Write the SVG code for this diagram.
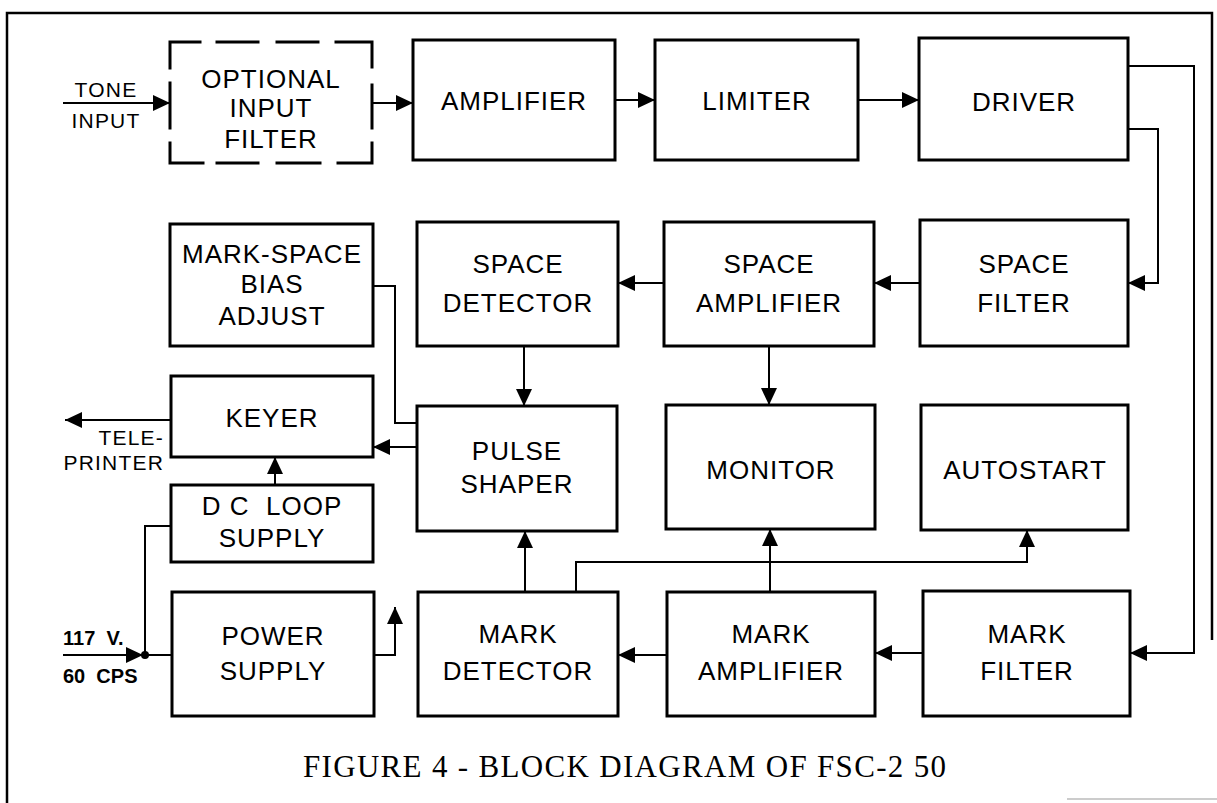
<svg xmlns="http://www.w3.org/2000/svg" width="1217" height="803" viewBox="0 0 1217 803">
<style>
.box{fill:none;stroke:#000;stroke-width:3}
.lbl{font-family:"Liberation Sans",Arial,sans-serif;font-size:26px;letter-spacing:1px;text-anchor:middle;fill:#000}
.sm{font-family:"Liberation Sans",Arial,sans-serif;font-size:21px;letter-spacing:1.2px;fill:#000}
.bd{font-family:"Liberation Sans",Arial,sans-serif;font-size:20px;font-weight:bold;fill:#000}
.cap{font-family:"Liberation Serif","Times New Roman",serif;font-size:31px;fill:#000}
.c{fill:none;stroke:#000;stroke-width:2}
.ca{fill:none;stroke:#000;stroke-width:2;marker-end:url(#ah)}
</style>
<defs>
<marker id="ah" viewBox="0 0 17 16" refX="17" refY="8" markerWidth="17" markerHeight="16" markerUnits="userSpaceOnUse" orient="auto"><path d="M0,0 L17,8 L0,16 z" fill="#000"/></marker>
</defs>
<rect width="1217" height="803" fill="#fff"/>
<g id="border" fill="none" stroke="#000" stroke-width="2.5">
<path d="M7,803 V13 H1212 V640"/>
<path d="M1067,799 H1217" stroke="#bbb" stroke-width="1.5"/>
</g>
<g id="nodes">
<g id="n-optional"><path class="box" stroke-linecap="square" d="M170,42 H200 M217,42 H258 M277,42 H318 M336,42 H372 M170,163 H203 M217,163 H258 M277,163 H320 M338,163 H372 M170,42 V68 M170,83 V128 M170,143 V163 M372,42 V67 M372,85 V128 M372,143 V163"/><text class="lbl" x="271" y="88">OPTIONAL</text><text class="lbl" x="271" y="117">INPUT</text><text class="lbl" x="271" y="148">FILTER</text></g>
<g id="n-amplifier"><rect class="box" x="413" y="40" width="202" height="120"/><text class="lbl" x="514" y="110">AMPLIFIER</text></g>
<g id="n-limiter"><rect class="box" x="655" y="40" width="203" height="120"/><text class="lbl" x="757" y="110">LIMITER</text></g>
<g id="n-driver"><rect class="box" x="919" y="38" width="209" height="122"/><text class="lbl" x="1024" y="111">DRIVER</text></g>
<g id="n-bias"><rect class="box" x="170" y="224" width="203" height="122"/><text class="lbl" x="272" y="263">MARK-SPACE</text><text class="lbl" x="272" y="293">BIAS</text><text class="lbl" x="272" y="325">ADJUST</text></g>
<g id="n-spacedet"><rect class="box" x="417" y="222" width="201" height="124"/><text class="lbl" x="518" y="273">SPACE</text><text class="lbl" x="518" y="312">DETECTOR</text></g>
<g id="n-spaceamp"><rect class="box" x="664" y="222" width="210" height="124"/><text class="lbl" x="769" y="273">SPACE</text><text class="lbl" x="769" y="312">AMPLIFIER</text></g>
<g id="n-spacefilt"><rect class="box" x="920" y="220" width="208" height="126"/><text class="lbl" x="1024" y="273">SPACE</text><text class="lbl" x="1024" y="312">FILTER</text></g>
<g id="n-keyer"><rect class="box" x="171" y="376" width="202" height="81"/><text class="lbl" x="272" y="427">KEYER</text></g>
<g id="n-dcloop"><rect class="box" x="171" y="485" width="202" height="77"/><text class="lbl" x="272" y="515" xml:space="preserve">D C  LOOP</text><text class="lbl" x="272" y="547">SUPPLY</text></g>
<g id="n-pulse"><rect class="box" x="417" y="406" width="200" height="125"/><text class="lbl" x="517" y="460">PULSE</text><text class="lbl" x="517" y="493">SHAPER</text></g>
<g id="n-monitor"><rect class="box" x="666" y="405" width="209" height="124"/><text class="lbl" x="771" y="479">MONITOR</text></g>
<g id="n-autostart"><rect class="box" x="921" y="405" width="207" height="125"/><text class="lbl" x="1025" y="479">AUTOSTART</text></g>
<g id="n-power"><rect class="box" x="172" y="592" width="202" height="124"/><text class="lbl" x="273" y="645">POWER</text><text class="lbl" x="273" y="680">SUPPLY</text></g>
<g id="n-markdet"><rect class="box" x="418" y="592" width="200" height="124"/><text class="lbl" x="518" y="643">MARK</text><text class="lbl" x="518" y="680">DETECTOR</text></g>
<g id="n-markamp"><rect class="box" x="667" y="592" width="208" height="124"/><text class="lbl" x="771" y="643">MARK</text><text class="lbl" x="771" y="680">AMPLIFIER</text></g>
<g id="n-markfilt"><rect class="box" x="923" y="591" width="207" height="125"/><text class="lbl" x="1027" y="643">MARK</text><text class="lbl" x="1027" y="680">FILTER</text></g>
</g>
<g id="connectors">
<path class="ca" d="M63,103 H170"/>
<path class="ca" d="M372,103 H413"/>
<path class="ca" d="M615,100 H655"/>
<path class="ca" d="M858,100 H919"/>
<path class="ca" d="M1128,129 H1158 V283 H1128"/>
<path class="ca" d="M1128,66 H1194 V653 H1130"/>
<path class="ca" d="M920,283 H874"/>
<path class="ca" d="M664,283 H618"/>
<path class="ca" d="M524,346 V406"/>
<path class="ca" d="M769,346 V405"/>
<path class="c" d="M373,286 H395 V423 H417"/>
<path class="ca" d="M417,447 H373"/>
<path class="ca" d="M171,420 H65"/>
<path class="ca" d="M275,485 V457"/>
<path class="ca" d="M63,655 H143"/>
<path class="c" d="M143,655 H172"/>
<circle cx="145" cy="655" r="4" fill="#000"/>
<path class="c" d="M145,655 V526 H171"/>
<path class="ca" d="M374,655 H395 V607"/>
<path class="ca" d="M923,653 H875"/>
<path class="ca" d="M667,655 H618"/>
<path class="ca" d="M525,592 V531"/>
<path class="ca" d="M770,592 V529"/>
<path class="ca" d="M576,592 V562 H1027 V530"/>
</g>
<g id="labels">
<text class="sm" x="106" y="97" text-anchor="middle">TONE</text>
<text class="sm" x="106" y="128" text-anchor="middle">INPUT</text>
<text class="sm" x="164" y="445" text-anchor="end">TELE-</text>
<text class="sm" x="164" y="470" text-anchor="end">PRINTER</text>
<text class="bd" x="63" y="645" xml:space="preserve">117  V.</text>
<text class="bd" x="63" y="683" xml:space="preserve">60  CPS</text>
<text class="cap" x="303" y="777" textLength="643" lengthAdjust="spacing">FIGURE 4 - BLOCK DIAGRAM OF FSC-2 50</text>
</g>
</svg>
